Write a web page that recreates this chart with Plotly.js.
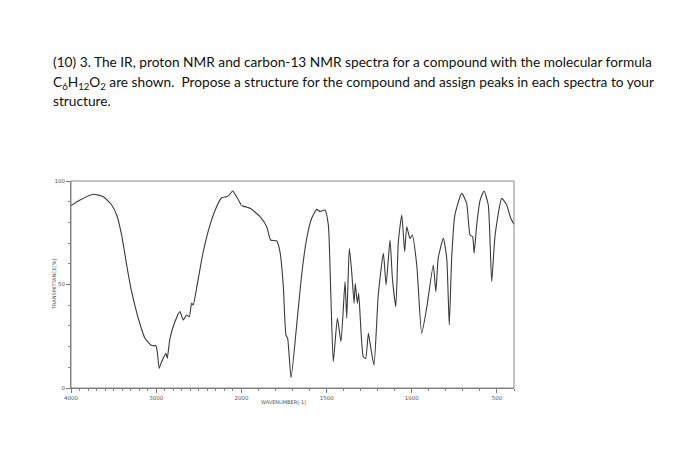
<!DOCTYPE html>
<html><head><meta charset="utf-8">
<script src="https://cdn.plot.ly/plotly-3.0.1.min.js"></script>
<style>html,body{margin:0;padding:0;background:#fff;}#chart{width:700px;height:469px;}</style>
</head><body><div id="chart"></div>
<script>
const wavenumber = [4000,3894,3739,3621,3523,3464,3406,3347,3289,3211,
3132,3054,3004,2988,2965,2937,2910,2886,2871,2839,
2781,2722,2683,2644,2613,2585,2566,2527,2449,2370,
2292,2233,2175,2144,2104,2057,2000,1950,1891,1852,
1829,1793,1774,1755,1739,1729,1709,1676,1647,1617,
1588,1558,1539,1510,1490,1476,1461,1437,1416,1392,
1382,1367,1353,1339,1332,1320,1312,1285,1271,1255,
1242,1222,1197,1167,1151,1128,1114,1094,1079,1059,
1042,1030,1011,997,971,942,913,874,859,845,
815,795,780,766,747,707,678,658,643,634,
619,599,576,551,531,511,472,443,419,400];
const transmittance = [88.1,90.8,93.6,92.4,88.4,83.6,73.9,59.4,46.5,33.7,
24,20.5,20.4,17.5,9.5,12.7,15.1,16.8,14.3,24,
32,36.9,32.9,35.3,34.4,40.9,40.1,48.2,65.8,78.7,
87.6,91.9,92.4,93.2,95.2,92.4,88.1,86.8,82.8,77.9,
71.5,71.0,65.8,49.8,25.6,24,5,30.4,54.6,72.3,
82,86.3,85.2,86,78.7,46.5,12.7,33.7,22.4,51.4,
33.7,67.5,56.2,40.9,50.6,40.9,45.7,15.1,14.3,26.4,
20,11.1,44.9,65.1,49.8,71.5,53,39.3,70.7,83.6,
65.8,77.9,72.3,73.9,59.4,26.4,38.5,59.4,46.5,62.7,
72.3,62.7,30.4,62.7,83.6,94,89.2,73.9,73.1,65.1,
78.7,90.8,95.2,88.4,51.4,73.9,91.6,88.4,82,79.1];
const xTicksHigh = [4000, 3000, 2000];
const xTicksLow = [1500, 1000, 500];
const yTicks = [0, 50, 100];
const xTitle = "WAVENUMBER[-1]";
const yTitle = "TRANSMITTANCE[%]";
const questionLines = [
  '(10) 3. The IR, proton NMR and carbon-13 NMR spectra for a compound with the molecular formula',
  'C<sub>6</sub>H<sub>12</sub>O<sub>2</sub> are shown.  Propose a structure for the compound and assign peaks in each spectra to your',
  'structure.'
];

const hiX = [], hiY = [], loX = [], loY = [];
wavenumber.forEach((w, i) => {
  if (w >= 2000) { hiX.push(w); hiY.push(transmittance[i]); }
  if (w <= 2000) { loX.push(w); loY.push(transmittance[i]); }
});
const lineStyle = {color: '#3a3a3a', width: 1.1, shape: 'spline', smoothing: 0.5};
const traces = [
  {x: hiX, y: hiY, xaxis: 'x', yaxis: 'y', mode: 'lines', line: lineStyle, hoverinfo: 'skip'},
  {x: loX, y: loY, xaxis: 'x2', yaxis: 'y', mode: 'lines', line: lineStyle, hoverinfo: 'skip'}
];
const L = 71, R = 514, T = 181, B = 388;
const W = R - L, H = B - T;
const split = (241.5 - L) / W;
const px = x => (x - L) / W, py = y => (B - y) / H;
const tickFont = {family: 'DejaVu Sans', size: 5.5, color: '#555'};
const axCommon = {
  showgrid: false, zeroline: false, showline: true, linecolor: '#777', linewidth: 1,
  ticks: 'outside', ticklen: 4, tickcolor: '#777', tickwidth: 1, tickfont: tickFont,
  tickmode: 'array', anchor: 'y',
  minor: {ticks: 'outside', ticklen: 2, tickcolor: '#888', dtick: 100, showgrid: false}
};
const annotations = questionLines.map((t, i) => ({
  xref: 'paper', yref: 'paper', x: px(51), y: py([62, 82, 100][i]),
  xanchor: 'left', yanchor: 'middle', showarrow: false, align: 'left',
  text: t, font: {family: 'Lato', size: 13.7, color: '#111'}
}));
annotations.push({xref: 'paper', yref: 'paper', x: px(283), y: py(402), xanchor: 'center', yanchor: 'middle',
  showarrow: false, text: xTitle, font: {family: 'DejaVu Sans', size: 5, color: '#555'}});
annotations.push({xref: 'paper', yref: 'paper', x: 0, y: py(284), xanchor: 'center', yanchor: 'middle',
  xshift: -17, showarrow: false, textangle: -90, text: yTitle, font: {family: 'DejaVu Sans', size: 5, color: '#555'}});
const layout = {
  width: 700, height: 469, paper_bgcolor: '#fff', plot_bgcolor: '#fff', showlegend: false,
  margin: {l: L, r: 700 - R, t: T, b: 469 - B, pad: 0},
  xaxis: Object.assign({}, axCommon, {domain: [0, split], range: [4000, 2000], tickvals: xTicksHigh}),
  xaxis2: Object.assign({}, axCommon, {domain: [split, 1], range: [2000, 400], tickvals: xTicksLow}),
  yaxis: Object.assign({}, axCommon, {anchor: 'x', domain: [0, 1], range: [0, 100], tickvals: yTicks,
    minor: {ticks: 'outside', ticklen: 2, tickcolor: '#888', dtick: 10, showgrid: false}}),
  shapes: [{type: 'rect', xref: 'paper', yref: 'paper', x0: 0, x1: 1, y0: 0, y1: 1,
    line: {color: '#888', width: 1}}],
  annotations: annotations
};
Plotly.newPlot('chart', traces, layout, {staticPlot: true, displayModeBar: false});
</script></body></html>
